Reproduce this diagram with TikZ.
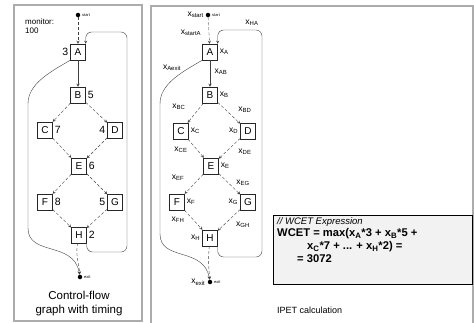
\documentclass[tikz,border=0pt]{standalone}
\usepackage{fontspec}
\setmainfont{Liberation Sans}
\usepackage{tikz}
\usetikzlibrary{shapes,arrows,positioning,calc}

\newcommand{\xv}[1]{x\textsubscript{#1}}

\begin{document}
\begin{tikzpicture}[x=1pt, y=-1pt,
  every node/.style={font=\fontsize{9}{10}\selectfont},
  panel/.style={draw=gray!65, line width=1.4pt},
  blk/.style={draw=black!85, fill=white, minimum width=15pt, minimum height=16pt, inner sep=0pt, font=\fontsize{10}{10}\selectfont},
  term/.style={circle, fill=black, inner sep=0pt, minimum size=4.5pt},
  tag/.style={font=\fontsize{4}{4}\selectfont, inner sep=0.5pt},
  wt/.style={font=\fontsize{10.5}{11}\selectfont, inner sep=1pt},
  var/.style={font=\fontsize{8.5}{9}\selectfont, inner sep=0.5pt},
  expr/.style={anchor=west, inner sep=0pt, font=\fontsize{11.2}{12}\selectfont\bfseries},
  cfe/.style={-stealth, thin, densely dashed, black!75},
  back/.style={-stealth, thin, black!75, rounded corners=6pt}
]
\useasboundingbox (0,0) rectangle (474,322);

% Panels
\draw[panel] (14,5) rectangle (142,321);
\draw[panel] (151,323) -- (151,6) -- (473,6) -- (473,323);

% Left: control-flow graph with timing
\node[term] (s) at (78,15) {};
\node[tag, right=1pt of s] (st) {start};
\node[anchor=north west, align=left, inner sep=0pt, font=\fontsize{8}{9}\selectfont] (mon) at (25,18) {monitor:\\100};

\node[blk] (A) at (78,52) {A};
\node[blk] (B) at (78,95) {B};
\node[blk] (C) at (45,130) {C};
\node[blk] (D) at (115,130) {D};
\node[blk] (E) at (79,166) {E};
\node[blk] (F) at (45,202) {F};
\node[blk] (G) at (115,202) {G};
\node[blk] (H) at (79,235) {H};
\node[term] (ex) at (80,277) {};
\node[tag, right=1pt of ex] (ext) {exit};

\node[wt, left=1pt of A] (wA) {3};
\node[wt, right=1pt of B] (wB) {5};
\node[wt, right=1pt of C] (wC) {7};
\node[wt, left=1pt of D] (wD) {4};
\node[wt, right=1pt of E] (wE) {6};
\node[wt, right=1pt of F] (wF) {8};
\node[wt, left=1pt of G] (wG) {5};
\node[wt, right=1pt of H] (wH) {2};

\draw[cfe] (s) -- (A);
\draw[back] (A) -- (B);
\draw[cfe] (B) -- (C);
\draw[cfe] (B) -- (D);
\draw[cfe] (C) -- (E);
\draw[cfe] (D) -- (E);
\draw[cfe] (E) -- (F);
\draw[cfe] (E) -- (G);
\draw[cfe] (F) -- (H);
\draw[cfe] (G) -- (H);
\draw[cfe] (H) to[out=-100,in=95] (ex);

% back edge H -> A and exit edge A -> exit
\coordinate (lb) at (127,252);
\coordinate (lt) at (127,32);
\draw[back] (H.south east) |- (lb) -- (lt) -| (A.north east);
\coordinate (lw1) at (28,110);
\coordinate (lw2) at (28,222);
\draw[back] (A.south west) to[out=-150,in=90] (lw1) -- (lw2) to[out=-90,in=100, looseness=1.2] (ex);

\node[align=center, font=\fontsize{11.5}{14}\selectfont] (cap) at (79,304) {Control-flow\\graph with timing};

% Right: IPET variables
\node[term] (rs) at (208,15) {};
\node[tag, right=1pt of rs] (rst) {start};
\node[blk] (rA) at (210,52) {A};
\node[blk] (rB) at (210,95) {B};
\node[blk] (rC) at (181,131) {C};
\node[blk] (rD) at (248,131) {D};
\node[blk] (rE) at (211,166) {E};
\node[blk] (rF) at (177,202) {F};
\node[blk] (rG) at (248,202) {G};
\node[blk] (rH) at (210,238) {H};
\node[term] (rex) at (210,282) {};
\node[tag, right=1pt of rex] (rext) {exit};

\node[var, left=1pt of rs] (xs) {\xv{start}};
\node[var] (xsA) at (191,33) {\xv{startA}};
\node[var] (xHA) at (252,23) {\xv{HA}};
\node[var, right=1.5pt of rA] (xA) {\xv{A}};
\node[var] (xAx) at (172,68) {\xv{Aexit}};
\node[var] (xAB) at (221,72) {\xv{AB}};
\node[var, right=1.5pt of rB] (xB) {\xv{B}};
\node[var] (xBC) at (179,107) {\xv{BC}};
\node[var] (xBD) at (245,110) {\xv{BD}};
\node[var, right=1.5pt of rC] (xC) {\xv{C}};
\node[var, left=1.5pt of rD] (xD) {\xv{D}};
\node[var] (xCE) at (181,150) {\xv{CE}};
\node[var] (xDE) at (245,152) {\xv{DE}};
\node[var, right=1.5pt of rE] (xE) {\xv{E}};
\node[var] (xEF) at (178,178) {\xv{EF}};
\node[var] (xEG) at (243,183) {\xv{EG}};
\node[var, right=1.5pt of rF] (xF) {\xv{F}};
\node[var, left=1.5pt of rG] (xG) {\xv{G}};
\node[var] (xFH) at (178,220) {\xv{FH}};
\node[var] (xGH) at (243,225) {\xv{GH}};
\node[var, left=1.5pt of rH] (xH) {\xv{H}};
\node[var, left=1.5pt of rex] (xx) {\xv{exit}};

\draw[cfe] (rs) -- (rA);
\draw[back] (rA) -- (rB);
\draw[cfe] (rB) -- (rC);
\draw[cfe] (rB) -- (rD);
\draw[cfe] (rC) -- (rE);
\draw[cfe] (rD) -- (rE);
\draw[cfe] (rE) -- (rF);
\draw[cfe] (rE) -- (rG);
\draw[cfe] (rF) -- (rH);
\draw[cfe] (rG) -- (rH);
\draw[cfe] (rH) to[out=-95,in=95] (rex);

\coordinate (rb) at (262,257);
\coordinate (rt) at (262,30);
\draw[back] (rH.south east) |- (rb) -- (rt) -| (rA.north east);
\coordinate (rw1) at (160,110);
\coordinate (rw2) at (160,228);
\draw[back] (rA.south west) to[out=-150,in=90] (rw1) -- (rw2) to[out=-90,in=100, looseness=1.2] (rex);

% WCET expression
\node[draw, line width=1.8pt, fill=gray!10, minimum width=199pt, minimum height=69pt, inner sep=0pt] (wbox) at (373,250) {};
\node[anchor=west, inner sep=0pt, font=\fontsize{9.5}{10}\selectfont\itshape] (w1) at (277,222) {// WCET Expression};
\node[expr] (w2) at (277,234) {WCET = max(\xv{A}*3 + \xv{B}*5 +};
\node[expr] (w3) at (307,246.5) {\xv{C}*7 + ... + \xv{H}*2) =};
\node[expr] (w4) at (297,259) {= 3072};

\node[anchor=west, inner sep=0pt, font=\fontsize{9}{10}\selectfont] (ipet) at (277,310) {IPET calculation};

\end{tikzpicture}
\end{document}
